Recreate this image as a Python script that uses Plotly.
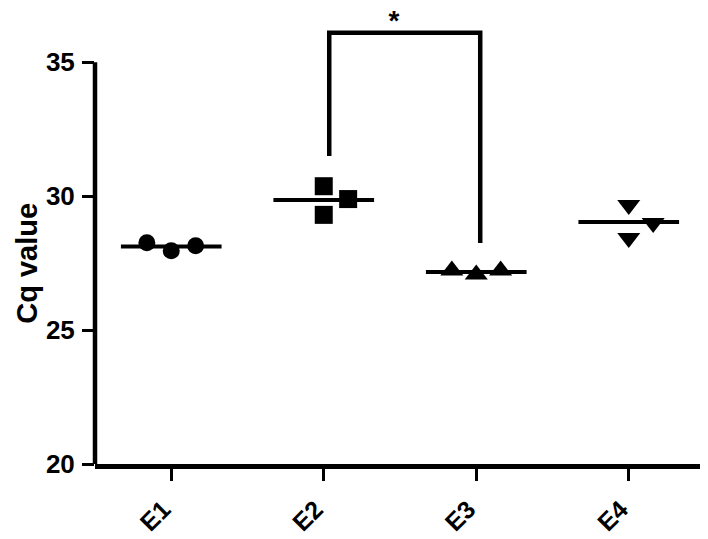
import plotly.graph_objects as go

groups = ['E1', 'E2', 'E3', 'E4']
e1_vals = [28.26, 27.96, 28.15]
e2_vals = [30.37, 29.30, 29.89]
e3_vals = [27.22, 27.07, 27.22]
e4_vals = [29.67, 28.44, 29.00]
jitter = {'E1': [-0.16, 0.0, 0.16], 'E2': [0.0, 0.0, 0.16],
          'E3': [-0.16, 0.0, 0.16], 'E4': [0.0, 0.0, 0.16]}
symbols = ['circle', 'square', 'triangle-up', 'triangle-down']
sizes = [17, 18, 20, 20]

# significance bracket between E2 and E3
bracket_x = [1.036, 1.036, 2.026, 2.026]
bracket_y = [31.5, 36.1, 36.1, 28.25]
star_x, star_y = 1.46, 36.45

all_vals = [e1_vals, e2_vals, e3_vals, e4_vals]

fig = go.Figure()

for i, (name, vals) in enumerate(zip(groups, all_vals)):
    xs = [i + j for j in jitter[name]]
    fig.add_trace(go.Scatter(
        x=xs, y=vals, mode='markers',
        marker=dict(symbol=symbols[i], size=sizes[i], color='black'),
        showlegend=False, cliponaxis=False
    ))
    mean = sum(vals) / len(vals)
    fig.add_trace(go.Scatter(
        x=[i - 0.33, i + 0.33], y=[mean, mean], mode='lines',
        line=dict(color='black', width=4), showlegend=False
    ))

# y axis line only from 20 to 35
fig.add_shape(type='line', xref='paper', yref='y', x0=0, x1=0, y0=20, y1=35,
              line=dict(color='black', width=4.5))

# bracket + star
fig.add_trace(go.Scatter(
    x=bracket_x, y=bracket_y,
    mode='lines', line=dict(color='black', width=4.5), showlegend=False
))
fig.add_trace(go.Scatter(
    x=[star_x], y=[star_y], mode='text', text=['*'],
    textfont=dict(size=28, color='black', family='Liberation Sans', weight='bold'),
    showlegend=False, cliponaxis=False
))

# y title centred on the 20-35 part of the axis
fig.add_annotation(xref='paper', yref='y', x=-0.112, y=27.5, text='Cq value',
                   textangle=-90, showarrow=False, xanchor='center', yanchor='middle',
                   font=dict(size=29, weight='bold', color='black', family='Liberation Sans'))

fig.update_layout(
    width=708, height=539,
    plot_bgcolor='white', paper_bgcolor='white',
    margin=dict(l=87, r=11, t=14, b=79),
    font=dict(family='Liberation Sans', color='black'),
    xaxis=dict(
        range=[-0.5, 3.5], tickvals=[0, 1, 2, 3], ticktext=groups,
        tickangle=-45, showline=True, linecolor='black', linewidth=4.5,
        ticks='outside', ticklen=12, tickwidth=3, tickcolor='black',
        showgrid=False, zeroline=False, ticklabelshift=-8, ticklabelstandoff=4,
        tickfont=dict(size=25, weight='bold')
    ),
    yaxis=dict(
        range=[20, 36.5], tickvals=[20, 25, 30, 35],
        showline=False, ticks='outside', ticklen=12, tickwidth=3,
        tickcolor='black', showgrid=False, zeroline=False,
        ticklabelstandoff=2,
        tickfont=dict(size=26, weight='bold')
    )
)

fig.write_html("out.html")
